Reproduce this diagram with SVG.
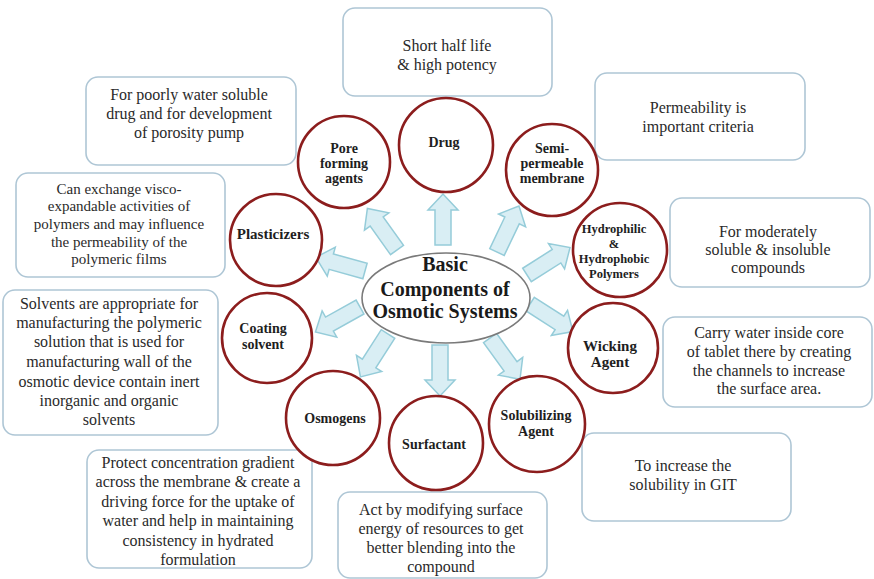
<svg xmlns="http://www.w3.org/2000/svg" width="874" height="579" viewBox="0 0 874 579">
  <defs>
    <style>
      .box rect { fill: #ffffff; stroke: #aec6d5; stroke-width: 1.6; }
      .box text { font-family: "Liberation Serif", Tinos, "Times New Roman", Times, "DejaVu Serif", serif; font-size: 16px; fill: #2a2a2a; text-anchor: middle; }
      .box.small text { font-size: 15px; }
      .node circle { fill: #ffffff; stroke: #8c1d1d; stroke-width: 2.6; }
      .node text { font-family: "Liberation Serif", Tinos, "Times New Roman", Times, "DejaVu Serif", serif; font-weight: bold; font-size: 14px; fill: #1e1e1e; text-anchor: middle; }
      .node.tight text { font-size: 12.5px; }
      .node.wide text { font-size: 15px; }
      .arrow { fill: #d9eef4; stroke: #95ccd9; stroke-width: 1.5; }
      .hub ellipse { fill: #ffffff; stroke: #7a7a7a; stroke-width: 1.6; }
      .hub text { font-family: "Liberation Serif", Tinos, "Times New Roman", Times, "DejaVu Serif", serif; font-weight: bold; font-size: 20px; fill: #1a1a1a; text-anchor: middle; }
    </style>
    <!-- block arrow pointing along +x, tail at origin -->
    <path id="arrow" d="M0,-8 H35 V-15 L51,0 L35,15 V8 H0 Z"/>
  </defs>

  <rect width="874" height="579" fill="#ffffff"/>

  <!-- description boxes -->
  <g id="box-drug" class="box">
    <rect x="343" y="8" width="209" height="88" rx="12"/>
    <text x="447" y="51">Short half life</text>
    <text x="447" y="70">&amp; high potency</text>
  </g>
  <g id="box-pore" class="box">
    <rect x="86" y="77" width="210" height="88" rx="12"/>
    <text x="189" y="100">For poorly water soluble</text>
    <text x="189" y="119">drug and for development</text>
    <text x="189" y="138">of porosity pump</text>
  </g>
  <g id="box-membrane" class="box">
    <rect x="595" y="73" width="210" height="87" rx="12"/>
    <text x="698" y="113">Permeability is</text>
    <text x="698" y="132">important criteria</text>
  </g>
  <g id="box-plasticizers" class="box small">
    <rect x="16" y="173" width="209" height="104" rx="12"/>
    <text x="119" y="194">Can exchange visco-</text>
    <text x="119" y="211">expandable activities of</text>
    <text x="119" y="229">polymers and may influence</text>
    <text x="119" y="247">the permeability of the</text>
    <text x="119" y="264">polymeric films</text>
  </g>
  <g id="box-coating" class="box">
    <rect x="3" y="290" width="215" height="145" rx="12"/>
    <text x="109" y="309">Solvents are appropriate for</text>
    <text x="109" y="328">manufacturing the polymeric</text>
    <text x="109" y="347">solution that is used for</text>
    <text x="109" y="367">manufacturing wall of the</text>
    <text x="109" y="387">osmotic device contain inert</text>
    <text x="109" y="406">inorganic and organic</text>
    <text x="109" y="425">solvents</text>
  </g>
  <g id="box-polymers" class="box">
    <rect x="670" y="198" width="200" height="89" rx="12"/>
    <text x="768" y="237">For moderately</text>
    <text x="768" y="255">soluble &amp; insoluble</text>
    <text x="768" y="273">compounds</text>
  </g>
  <g id="box-wicking" class="box">
    <rect x="663" y="317" width="209" height="90" rx="12"/>
    <text x="769" y="338">Carry water inside core</text>
    <text x="769" y="357">of tablet there by creating</text>
    <text x="769" y="376">the channels to increase</text>
    <text x="769" y="394">the surface area.</text>
  </g>
  <g id="box-solubilizing" class="box">
    <rect x="582" y="433" width="209" height="88" rx="12"/>
    <text x="683" y="471">To increase the</text>
    <text x="683" y="490">solubility in GIT</text>
  </g>
  <g id="box-surfactant" class="box">
    <rect x="338" y="492" width="209" height="86" rx="12"/>
    <text x="441" y="515">Act by modifying surface</text>
    <text x="441" y="534">energy of resources to get</text>
    <text x="441" y="553">better blending into the</text>
    <text x="441" y="572">compound</text>
  </g>
  <g id="box-osmogens" class="box">
    <rect x="87" y="450" width="225" height="118" rx="12"/>
    <text x="198" y="468">Protect concentration gradient</text>
    <text x="198" y="487">across the membrane &amp; create a</text>
    <text x="198" y="507">driving force for the uptake of</text>
    <text x="198" y="526">water and help in maintaining</text>
    <text x="198" y="546">consistency in hydrated</text>
    <text x="198" y="565">formulation</text>
  </g>

  <!-- block arrows radiating from the hub -->
  <g id="connectors">
    <use href="#arrow" class="arrow" transform="translate(443,245) rotate(-90)"/>
    <use href="#arrow" class="arrow" transform="translate(397,250) rotate(-125.5)"/>
    <use href="#arrow" class="arrow" transform="translate(497,252) rotate(-64.5)"/>
    <use href="#arrow" class="arrow" transform="translate(365,271) rotate(-164.5)"/>
    <use href="#arrow" class="arrow" transform="translate(527,275) rotate(-32.5)"/>
    <use href="#arrow" class="arrow" transform="translate(360,307) rotate(150.8)"/>
    <use href="#arrow" class="arrow" transform="translate(530,304) rotate(32.7)"/>
    <use href="#arrow" class="arrow" transform="translate(388,334) rotate(122.7)"/>
    <use href="#arrow" class="arrow" transform="translate(440,345) rotate(90)"/>
    <use href="#arrow" class="arrow" transform="translate(490,338) rotate(54)"/>
  </g>

  <!-- component circles -->
  <g id="node-drug" class="node">
    <circle cx="446" cy="145" r="47"/>
    <text x="444" y="147">Drug</text>
  </g>
  <g id="node-pore" class="node">
    <circle cx="344" cy="162" r="46"/>
    <text x="344" y="153">Pore</text>
    <text x="344" y="168">forming</text>
    <text x="344" y="183">agents</text>
  </g>
  <g id="node-membrane" class="node">
    <circle cx="552" cy="170" r="46"/>
    <text x="552" y="153">Semi-</text>
    <text x="552" y="168">permeable</text>
    <text x="552" y="183">membrane</text>
  </g>
  <g id="node-polymers" class="node tight">
    <circle cx="620" cy="250" r="47"/>
    <text x="614" y="233">Hydrophilic</text>
    <text x="614" y="248">&amp;</text>
    <text x="614" y="263">Hydrophobic</text>
    <text x="614" y="278">Polymers</text>
  </g>
  <g id="node-wicking" class="node wide">
    <circle cx="613" cy="348" r="45"/>
    <text x="610" y="351">Wicking</text>
    <text x="610" y="367">Agent</text>
  </g>
  <g id="node-solubilizing" class="node">
    <circle cx="537" cy="424" r="48"/>
    <text x="536" y="420">Solubilizing</text>
    <text x="536" y="436">Agent</text>
  </g>
  <g id="node-surfactant" class="node">
    <circle cx="436" cy="443" r="47"/>
    <text x="434" y="449">Surfactant</text>
  </g>
  <g id="node-osmogens" class="node">
    <circle cx="333" cy="418" r="47"/>
    <text x="335" y="423">Osmogens</text>
  </g>
  <g id="node-coating" class="node">
    <circle cx="267" cy="338" r="45"/>
    <text x="263" y="333">Coating</text>
    <text x="263" y="349">solvent</text>
  </g>
  <g id="node-plasticizers" class="node wide">
    <circle cx="276" cy="240" r="46"/>
    <text x="273" y="239">Plasticizers</text>
  </g>

  <!-- central hub -->
  <g id="hub" class="hub">
    <ellipse cx="446" cy="298" rx="84" ry="45"/>
    <text x="445" y="271">Basic</text>
    <text x="445" y="296">Components of</text>
    <text x="445" y="318">Osmotic Systems</text>
  </g>
</svg>
